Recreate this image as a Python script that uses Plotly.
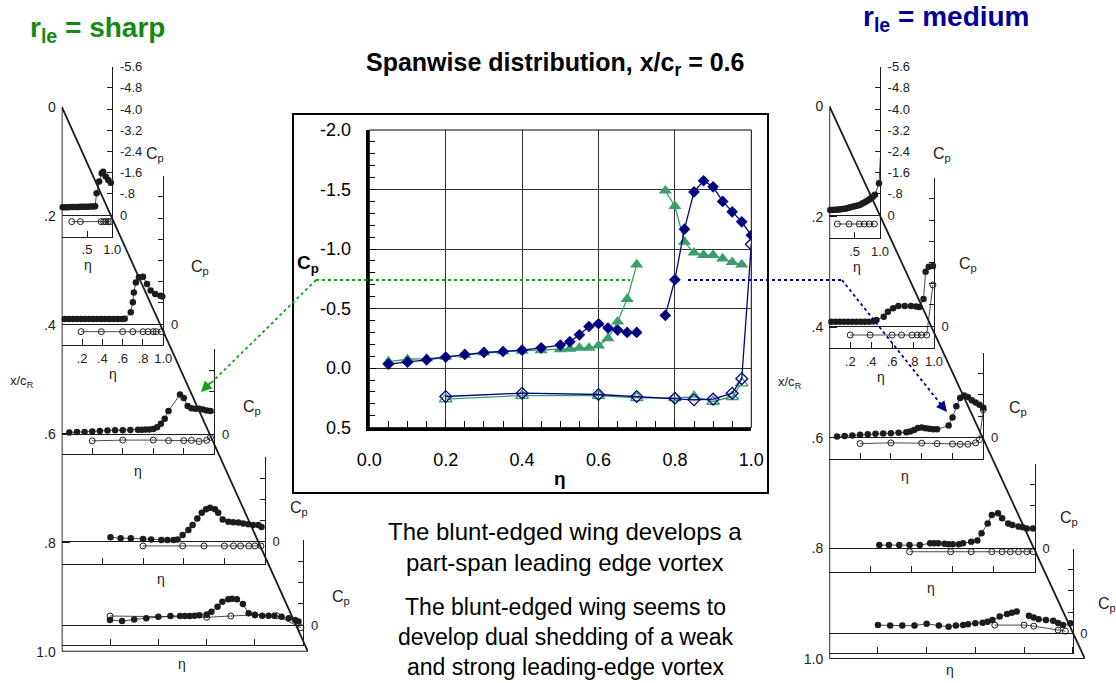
import plotly.graph_objects as go

W, H = 1116, 683
INK = "#1c1c1c"
NAVY = "#000080"
GREEN = "#3a9e6b"
GREEN_TXT = "#138a13"
DOT_GREEN = "#14a014"
BLUE_TXT = "#000099"
FONT = "Arial, 'Liberation Sans', sans-serif"

# ---------------- main chart data (x/c_r = 0.6) ----------------
eta_sharp_upper = [0.05, 0.10, 0.15, 0.20, 0.25, 0.30, 0.35, 0.40, 0.45, 0.50, 0.525, 0.55, 0.575,
                   0.60, 0.625, 0.65, 0.675, 0.70, None, 0.775, 0.80, 0.825, 0.85, 0.875, 0.90,
                   0.925, 0.95, 0.975]
cp_sharp_upper = [-0.055, -0.075, -0.08, -0.095, -0.11, -0.13, -0.14, -0.145, -0.15, -0.157, -0.163,
                  -0.17, -0.17, -0.19, -0.25, -0.39, -0.58, -0.87, None, -1.49, -1.36, -1.06, -0.97,
                  -0.95, -0.95, -0.92, -0.89, -0.87]
eta_sharp_lower = [0.20, 0.40, 0.60, 0.70, 0.80, 0.85, 0.90, 0.95, 0.975]
cp_sharp_lower = [0.26, 0.23, 0.23, 0.25, 0.25, 0.24, 0.28, 0.24, 0.126]

eta_med_upper = [0.05, 0.10, 0.15, 0.20, 0.25, 0.30, 0.35, 0.40, 0.45, 0.50, 0.525, 0.55, 0.575,
                 0.60, 0.625, 0.65, 0.675, 0.70, None, 0.775, 0.80, 0.825, 0.85, 0.875, 0.90,
                 0.925, 0.95, 0.975, 1.0]
cp_med_upper = [-0.034, -0.05, -0.07, -0.093, -0.115, -0.132, -0.14, -0.151, -0.171, -0.194, -0.222,
                -0.28, -0.35, -0.373, -0.337, -0.32, -0.30, -0.30, None, -0.443, -0.743, -1.167,
                -1.48, -1.574, -1.523, -1.40, -1.313, -1.229, -1.116]
eta_med_lower = [0.20, 0.40, 0.60, 0.70, 0.80, 0.85, 0.90, 0.95, 0.975, 1.0]
cp_med_lower = [0.238, 0.21, 0.221, 0.238, 0.252, 0.266, 0.26, 0.21, 0.089, -1.04]

x_ticks_main = [0.0, 0.2, 0.4, 0.6, 0.8, 1.0]
y_ticks_main = [-2.0, -1.5, -1.0, -0.5, 0.0, 0.5]

# ---------------- scanned-figure panels (small Cp plots) ----------------
# sharp leading edge (left planform)
L1_eta_up = [0.02, 0.07, 0.12, 0.17, 0.22, 0.27, 0.32, 0.37, 0.42, 0.47, 0.52, 0.57, 0.62, 0.66,
             0.69, 0.74, 0.79, 0.82, 0.87, 0.92, 0.97]
L1_cp_up = [-0.29, -0.29, -0.29, -0.30, -0.30, -0.30, -0.30, -0.31, -0.31, -0.31, -0.31, -0.32,
            -0.32, -0.33, -0.82, -1.26, -1.58, -1.63, -1.45, -1.32, -1.22]
L1_eta_lo = [0.20, 0.37, 0.78, 0.83, 0.87, 0.92, 0.96]
L1_cp_lo = [0.25, 0.25, 0.25, 0.25, 0.25, 0.25, 0.25]

L2_eta_up = [0.03, 0.07, 0.11, 0.15, 0.19, 0.23, 0.27, 0.31, 0.35, 0.39, 0.43, 0.47, 0.51, 0.55,
             0.59, 0.62, 0.68, 0.70, 0.71, 0.73, 0.76, 0.80, 0.84, 0.875, 0.92, 0.97, 0.99]
L2_cp_up = [-0.19, -0.19, -0.19, -0.19, -0.19, -0.19, -0.19, -0.19, -0.19, -0.19, -0.19, -0.19,
            -0.19, -0.19, -0.19, -0.20, -0.44, -0.82, -1.19, -1.57, -1.76, -1.78, -1.51, -1.26,
            -1.13, -1.07, -1.04]
L2_eta_lo = [0.19, 0.39, 0.60, 0.70, 0.80, 0.85, 0.90, 0.93, 0.98]
L2_cp_lo = [0.29, 0.29, 0.29, 0.29, 0.29, 0.29, 0.29, 0.29, 0.29]

L4_eta_up = [0.24, 0.29, 0.34, 0.40, 0.44, 0.49, 0.52, 0.55, 0.57, 0.595, 0.623, 0.644, 0.667,
             0.689, 0.71, 0.73, 0.754, 0.77, 0.792, 0.82, 0.844, 0.869, 0.893, 0.918, 0.942,
             0.967, 0.983]
L4_cp_up = [-0.17, -0.13, -0.13, -0.10, -0.08, -0.06, -0.06, -0.06, -0.08, -0.25, -0.44, -0.63,
            -0.88, -1.09, -1.22, -1.28, -1.22, -1.09, -0.84, -0.75, -0.73, -0.72, -0.69, -0.66,
            -0.63, -0.63, -0.55]
L4_eta_lo = [0.40, 0.595, 0.70, 0.80, 0.845, 0.88, 0.92, 0.95, 0.98]
L4_cp_lo = [0.16, 0.16, 0.16, 0.16, 0.16, 0.16, 0.16, 0.16, 0.16]

L5_eta_up = [0.20, 0.25, 0.30, 0.35, 0.40, 0.45, 0.49, 0.51, 0.53, 0.55, 0.57, 0.60, 0.62, 0.645,
             0.665, 0.69, 0.705, 0.725, 0.75, 0.774, 0.80, 0.83, 0.856, 0.88, 0.91, 0.94, 0.966,
             0.98]
L5_cp_up = [-0.19, -0.15, -0.21, -0.25, -0.31, -0.34, -0.34, -0.34, -0.34, -0.35, -0.37, -0.40,
            -0.50, -0.69, -0.88, -0.97, -0.99, -0.97, -0.79, -0.44, -0.38, -0.35, -0.35, -0.35,
            -0.31, -0.25, -0.19, -0.13]
L5_eta_lo = [0.20, 0.60, 0.70, 0.80, 0.89, 0.99]
L5_cp_lo = [-0.34, -0.29, -0.34, -0.38, -0.35, 0.10]

# medium leading edge (right planform)
R1_eta_up = [0.02, 0.06, 0.10, 0.14, 0.18, 0.22, 0.26, 0.30, 0.34, 0.38, 0.42, 0.46, 0.50, 0.54,
             0.58, 0.62, 0.66, 0.70, 0.74, 0.78, 0.82, 0.86, 0.90, 0.98, 1.02]
R1_cp_up = [-0.19, -0.19, -0.20, -0.20, -0.21, -0.22, -0.23, -0.24, -0.25, -0.27, -0.29, -0.31,
            -0.33, -0.35, -0.37, -0.40, -0.44, -0.48, -0.53, -0.58, -0.63, -0.69, -0.76, -1.20,
            -2.60]
R1_eta_lo = [0.16, 0.39, 0.59, 0.69, 0.79, 0.89]
R1_cp_lo = [0.34, 0.34, 0.34, 0.34, 0.34, 0.34]

R2_eta_up = [0.02, 0.06, 0.10, 0.14, 0.18, 0.22, 0.26, 0.30, 0.34, 0.38, 0.42, 0.45, 0.52, 0.56,
             0.61, 0.66, 0.72, 0.78, 0.83, 0.86, 0.90, 0.92, 0.95, 0.99]
R2_cp_up = [-0.16, -0.16, -0.16, -0.16, -0.16, -0.16, -0.16, -0.16, -0.16, -0.16, -0.17, -0.23,
            -0.35, -0.54, -0.67, -0.75, -0.75, -0.75, -0.74, -0.72, -1.02, -2.05, -2.24, -2.26]
R2_eta_lo = [0.20, 0.39, 0.60, 0.69, 0.79, 0.84, 0.88, 0.93, 0.99]
R2_cp_lo = [0.34, 0.34, 0.34, 0.34, 0.34, 0.34, 0.34, 0.34, -1.55]

R4_eta_up = [0.243, 0.29, 0.34, 0.39, 0.44, 0.49, 0.51, 0.53, 0.56, 0.58, 0.60, 0.63, 0.65, 0.69,
             0.72, 0.74, 0.77, 0.79, 0.82, 0.84, 0.87, 0.89, 0.92, 0.94, 0.96, 0.99]
R4_cp_up = [-0.12, -0.12, -0.12, -0.12, -0.12, -0.19, -0.19, -0.19, -0.17, -0.15, -0.15, -0.15,
            -0.19, -0.25, -0.29, -0.57, -0.94, -1.26, -1.32, -1.13, -0.94, -0.88, -0.82, -0.79,
            -0.75, -0.75]
R4_eta_lo = [0.39, 0.59, 0.69, 0.79, 0.84, 0.88, 0.92, 0.96, 0.99]
R4_cp_lo = [0.13, 0.13, 0.13, 0.13, 0.13, 0.13, 0.13, 0.13, 0.13]

R5_eta_up = [0.20, 0.25, 0.30, 0.35, 0.40, 0.45, 0.49, 0.52, 0.55, 0.57, 0.60, 0.63, 0.65, 0.67,
             0.70, 0.73, 0.75, 0.77, None, 0.82, 0.84, 0.86, 0.89, 0.92, 0.94, 0.96, 0.99]
R5_cp_up = [-0.31, -0.29, -0.29, -0.29, -0.36, -0.29, -0.25, -0.29, -0.31, -0.34, -0.38, -0.40,
            -0.44, -0.50, -0.63, -0.73, -0.78, -0.82, None, -0.66, -0.60, -0.53, -0.50, -0.47,
            -0.39, -0.31, -0.38]
R5_eta_lo = [0.68, 0.80, 0.84, 0.94, 0.97]
R5_cp_lo = [-0.31, -0.31, -0.27, -0.12, -0.08]

station_labels = ["0", ".2", ".4", ".6", ".8", "1.0"]
station_vals = [0.0, 0.2, 0.4, 0.6, 0.8, 1.0]
cp_ticks_long = [-5.6, -4.8, -4.0, -3.2, -2.4, -1.6, -0.8, 0.0]
cp_ticktext_long = ["-5.6", "-4.8", "-4.0", "-3.2", "-2.4", "-1.6", "-.8", "0"]
cp_ticks_short = [-3.2, -2.4, -1.6, -0.8, 0.0]
eta_ticks_half = [0.5, 1.0]
eta_ticktext_half = [".5", "1.0"]
eta_ticks_fifth = [0.2, 0.4, 0.6, 0.8, 1.0]
eta_ticktext_fifth = [".2", ".4", ".6", ".8", "1.0"]


def nn(v):
    return [a for a in v if a is not None]


def px(x):
    return x / W


def py(y):
    return 1 - y / H


fig = go.Figure()
layout = dict(
    template="none",
    width=W, height=H, margin=dict(l=0, r=0, t=0, b=0, pad=0), autosize=False,
    paper_bgcolor="white", plot_bgcolor="rgba(0,0,0,0)",
    showlegend=False, font=dict(family=FONT, color=INK),
)

# ---------------- main chart ----------------
fig.add_trace(go.Scatter(x=eta_sharp_upper, y=cp_sharp_upper, mode="lines+markers",
                         line=dict(color=GREEN, width=1.3),
                         marker=dict(symbol="triangle-up", size=11.5, color=GREEN),
                         xaxis="x", yaxis="y"))
fig.add_trace(go.Scatter(x=eta_sharp_lower, y=cp_sharp_lower, mode="lines+markers",
                         line=dict(color=GREEN, width=1.3),
                         marker=dict(symbol="triangle-up-open", size=11, color=GREEN,
                                     line=dict(width=1.3)),
                         xaxis="x", yaxis="y"))
fig.add_trace(go.Scatter(x=eta_med_upper, y=cp_med_upper, mode="lines+markers",
                         line=dict(color=NAVY, width=1.3),
                         marker=dict(symbol="diamond", size=9, color=NAVY),
                         xaxis="x", yaxis="y"))
fig.add_trace(go.Scatter(x=eta_med_lower, y=cp_med_lower, mode="lines+markers",
                         line=dict(color=NAVY, width=1.3),
                         marker=dict(symbol="diamond-open", size=9, color=NAVY,
                                     line=dict(width=1.3)),
                         xaxis="x", yaxis="y"))

main_x0, main_x1, main_y0, main_y1 = 369.3, 751.3, 427.7, 130.0
tickfont_main = dict(family=FONT, size=18, color="black")
layout["xaxis"] = dict(
    domain=[px(main_x0), px(main_x1)], range=[0, 1], anchor="y", automargin=False,
    tickvals=x_ticks_main, ticktext=[f"{v:.1f}" for v in x_ticks_main],
    ticks="inside", ticklen=7, tickcolor="black", tickwidth=1,
    minor=dict(dtick=0.05, tick0=0, ticks="inside", ticklen=7, tickcolor="black", showgrid=False),
    showgrid=True, gridcolor="#333333", gridwidth=1.4,
    showline=True, linecolor="black", linewidth=2.5, zeroline=False,
    tickfont=tickfont_main, ticklabelstandoff=14, fixedrange=True,
)
layout["yaxis"] = dict(
    domain=[py(main_y0), py(main_y1)], range=[0.5, -2.0], anchor="x", automargin=False,
    tickvals=y_ticks_main, ticktext=[f"{v:.1f}".replace("-0.0", "0.0") for v in y_ticks_main],
    ticks="inside", ticklen=7, tickcolor="black",
    minor=dict(dtick=0.1, tick0=0, ticks="inside", ticklen=6, tickcolor="black", showgrid=False),
    showgrid=True, gridcolor="#333333", gridwidth=1.4,
    showline=True, linecolor="black", linewidth=2.5, zeroline=False,
    tickfont=tickfont_main, ticklabelstandoff=12, fixedrange=True,
)

# ---------------- small scanned Cp plots ----------------
K = 26.5  # pixels per unit Cp in the scanned figures
small_font = dict(family=FONT, size=13, color="#222")

panels = [
    # (root_x, eta1_x, base_y, cp_top, box_bot, eta_ticks, eta_text, cp_ticks, cp_text, data)
    (61.7, 112.3, 215.0, -5.6, 236.7, eta_ticks_half, eta_ticktext_half, cp_ticks_long, cp_ticktext_long,
     (L1_eta_up, L1_cp_up, L1_eta_lo, L1_cp_lo)),
    (61.7, 163.3, 324.0, -5.6, 345.0, eta_ticks_fifth, eta_ticktext_fifth, cp_ticks_long, None,
     (L2_eta_up, L2_cp_up, L2_eta_lo, L2_cp_lo)),
    (61.7, 214.3, 434.0, -3.2, 454.0, eta_ticks_fifth, None, cp_ticks_short, None,
     (nn(eta_sharp_upper), nn(cp_sharp_upper), eta_sharp_lower, cp_sharp_lower)),
    (61.7, 265.0, 541.7, -3.2, 564.3, eta_ticks_fifth, None, cp_ticks_short, None,
     (L4_eta_up, L4_cp_up, L4_eta_lo, L4_cp_lo)),
    (61.7, 303.3, 625.0, -3.2, 645.0, eta_ticks_fifth, None, cp_ticks_short, None,
     (L5_eta_up, L5_cp_up, L5_eta_lo, L5_cp_lo)),
    (829.3, 880.0, 215.0, -5.6, 238.3, eta_ticks_half, eta_ticktext_half, cp_ticks_long, cp_ticktext_long,
     (R1_eta_up, R1_cp_up, R1_eta_lo, R1_cp_lo)),
    (829.3, 934.0, 326.0, -5.6, 348.3, eta_ticks_fifth, eta_ticktext_fifth, cp_ticks_long, None,
     (R2_eta_up, R2_cp_up, R2_eta_lo, R2_cp_lo)),
    (829.3, 983.3, 437.3, -3.2, 459.3, eta_ticks_fifth, None, cp_ticks_short, None,
     (nn(eta_med_upper), nn(cp_med_upper), eta_med_lower, cp_med_lower)),
    (829.3, 1035.0, 548.3, -3.2, 571.7, eta_ticks_fifth, None, cp_ticks_short, None,
     (R4_eta_up, R4_cp_up, R4_eta_lo, R4_cp_lo)),
    (829.3, 1072.7, 633.3, -3.2, 653.3, eta_ticks_fifth, None, cp_ticks_short, None,
     (R5_eta_up, R5_cp_up, R5_eta_lo, R5_cp_lo)),
]

for i, (rx, ex, by, cpt, bb, et, etx, ct, ctx, data) in enumerate(panels):
    n = i + 2
    top_y = by + cpt * K
    cp_bot = (bb - by) / K
    if etx:
        xaxis_ticks = dict(tickvals=et, ticktext=etx, showticklabels=True,
                           ticks="inside", ticklen=6, tickcolor=INK)
    else:
        xaxis_ticks = dict(tickvals=[], showticklabels=False, ticks="",
                           minor=dict(tickmode="array", tickvals=et, ticks="inside",
                                      ticklen=6, tickcolor=INK, showgrid=False))
    if ctx:
        yaxis_ticks = dict(tickvals=ct, ticktext=ctx, ticks="inside", ticklen=5, tickcolor=INK)
    else:
        yaxis_ticks = dict(tickvals=[0.0], ticktext=["0"], ticks="inside", ticklen=5, tickcolor=INK,
                           minor=dict(tickmode="array", tickvals=[v for v in ct if v != 0],
                                      ticks="inside", ticklen=5, tickcolor=INK, showgrid=False))
    layout[f"xaxis{n}"] = dict(
        domain=[px(rx), px(ex)], range=[0, 1], anchor=f"y{n}", automargin=False,
        showline=True, linecolor=INK, linewidth=1,
        showgrid=False, zeroline=False, tickfont=small_font, ticklabelstandoff=1, fixedrange=True,
        **xaxis_ticks,
    )
    layout[f"yaxis{n}"] = dict(
        domain=[py(bb), py(top_y)], range=[cp_bot, cpt], anchor=f"x{n}", side="right",
        automargin=False,
        showline=True, linecolor=INK, linewidth=1, showgrid=False,
        zeroline=True, zerolinecolor=INK, zerolinewidth=1.4,
        tickfont=small_font, ticklabelstandoff=4, fixedrange=True,
        **yaxis_ticks,
    )
    eu, cu, el, cl = data
    fig.add_trace(go.Scatter(x=eu, y=cu, mode="lines+markers", cliponaxis=False,
                             line=dict(color=INK, width=0.8),
                             marker=dict(symbol="circle", size=6.5, color=INK),
                             xaxis=f"x{n}", yaxis=f"y{n}"))
    fig.add_trace(go.Scatter(x=el, y=cl, mode="lines+markers", cliponaxis=False,
                             line=dict(color=INK, width=0.8),
                             marker=dict(symbol="circle-open", size=6, color=INK, line=dict(width=1)),
                             xaxis=f"x{n}", yaxis=f"y{n}"))

# ---------------- planform outlines ----------------
planform_x = [0, 0, 1, 0]
planform_y = [0, 1, 1, 0]
wings = [(61.7, 308.0, 106.7, 651.7), (829.3, 1085.0, 106.0, 659.0)]
for j, (wx0, wx1, wy0, wy1) in enumerate(wings):
    n = 12 + j
    layout[f"xaxis{n}"] = dict(domain=[px(wx0), px(wx1)], range=[0, 1], anchor=f"y{n}",
                               visible=False, fixedrange=True, automargin=False)
    layout[f"yaxis{n}"] = dict(domain=[py(wy1), py(wy0)], range=[1, 0], anchor=f"x{n}",
                               automargin=False,
                               tickvals=station_vals, ticktext=station_labels,
                               ticks="inside", ticklen=8, tickcolor=INK,
                               showline=False, showgrid=False, zeroline=False,
                               tickfont=dict(family=FONT, size=14, color="#222"),
                               ticklabelstandoff=5, fixedrange=True)
    fig.add_trace(go.Scatter(x=planform_x, y=planform_y, mode="lines", cliponaxis=False,
                             line=dict(color=INK, width=1.8),
                             xaxis=f"x{n}", yaxis=f"y{n}"))

# ---------------- shapes ----------------
shapes = [
    dict(type="rect", xref="paper", yref="paper", x0=px(293), x1=px(768), y0=py(493), y1=py(114),
         line=dict(color="black", width=2)),
    dict(type="rect", xref="x domain", yref="y domain", x0=0, x1=1, y0=0, y1=1,
         line=dict(color="black", width=1)),
    dict(type="line", xref="paper", yref="paper", x0=px(316), x1=px(630), y0=py(280), y1=py(280),
         line=dict(color=DOT_GREEN, width=1.8, dash="dot")),
    dict(type="line", xref="paper", yref="paper", x0=px(316), x1=px(206), y0=py(280), y1=py(388),
         line=dict(color=DOT_GREEN, width=1.8, dash="dot")),
    dict(type="line", xref="paper", yref="paper", x0=px(688), x1=px(842), y0=py(280), y1=py(280),
         line=dict(color=NAVY, width=1.8, dash="dot")),
    dict(type="line", xref="paper", yref="paper", x0=px(842), x1=px(943), y0=py(280), y1=py(407),
         line=dict(color=NAVY, width=1.8, dash="dot")),
]
layout["shapes"] = shapes

# ---------------- annotations ----------------
def ann(text, x, y, size, color=INK, bold=False, xanchor="center", yanchor="middle", family=FONT):
    t = f"<b>{text}</b>" if bold else text
    return dict(text=t, x=px(x), y=py(y), xref="paper", yref="paper", showarrow=False,
                xanchor=xanchor, yanchor=yanchor, font=dict(family=family, size=size, color=color))

annotations = [
    ann("Spanwise distribution, x/c<sub>r</sub> = 0.6", 555, 64, 25, color="black", bold=True),
    ann("r<sub>le</sub> = sharp", 97, 29, 28, color=GREEN_TXT, bold=True),
    ann("r<sub>le</sub> = medium", 946, 19, 28, color=BLUE_TXT, bold=True),
    ann("C<sub>p</sub>", 308, 264, 19, color="black", bold=True),
    ann("η", 560, 478, 19, color="black", bold=True),
    ann("The blunt-edged wing develops a<br>part-span leading edge vortex", 565, 547, 24, color="black"),
    ann("The blunt-edged wing seems to<br>develop dual shedding of a weak<br>and strong leading-edge vortex",
        566, 637, 23, color="black"),
    # scanned-figure labels
    ann("x/c<sub>R</sub>", 22, 381, 13),
    ann("x/c<sub>R</sub>", 790, 382, 13),
]
small_lbl = [
    ("C<sub>p</sub>", 155, 155), ("C<sub>p</sub>", 200, 267), ("C<sub>p</sub>", 252, 407),
    ("C<sub>p</sub>", 299, 508), ("C<sub>p</sub>", 341, 597),
    ("C<sub>p</sub>", 942, 155), ("C<sub>p</sub>", 968, 265), ("C<sub>p</sub>", 1018, 408),
    ("C<sub>p</sub>", 1069, 518), ("C<sub>p</sub>", 1107, 604),
]
for t, x, y in small_lbl:
    annotations.append(ann(t, x, y, 16, color="#222"))
eta_lbl = [
    (88, 265), (113, 374), (138, 471), (161, 579), (182, 664),
    (857, 267), (881, 377), (905, 476), (931, 588), (950, 670),
]
for x, y in eta_lbl:
    annotations.append(ann("η", x, y, 14, color="#222"))

# arrow heads for the dotted leaders
annotations.append(dict(x=px(201), y=py(392), xref="paper", yref="paper", ax=11, ay=-11,
                        showarrow=True, arrowhead=2, arrowsize=1.2, arrowwidth=1.8,
                        arrowcolor=DOT_GREEN, text=""))
annotations.append(dict(x=px(947), y=py(412), xref="paper", yref="paper", ax=-9, ay=-11,
                        showarrow=True, arrowhead=2, arrowsize=1.2, arrowwidth=1.8,
                        arrowcolor=NAVY, text=""))
layout["annotations"] = annotations

fig.update_layout(**layout)
fig.write_html(
    "out.html",
    config={"displayModeBar": False, "responsive": False},
    post_script=(
        "document.documentElement.style.margin='0';document.body.style.margin='0';"
        "document.body.style.padding='0';document.documentElement.style.overflow='hidden';"
        "document.body.style.overflow='hidden';"
    ),
)
